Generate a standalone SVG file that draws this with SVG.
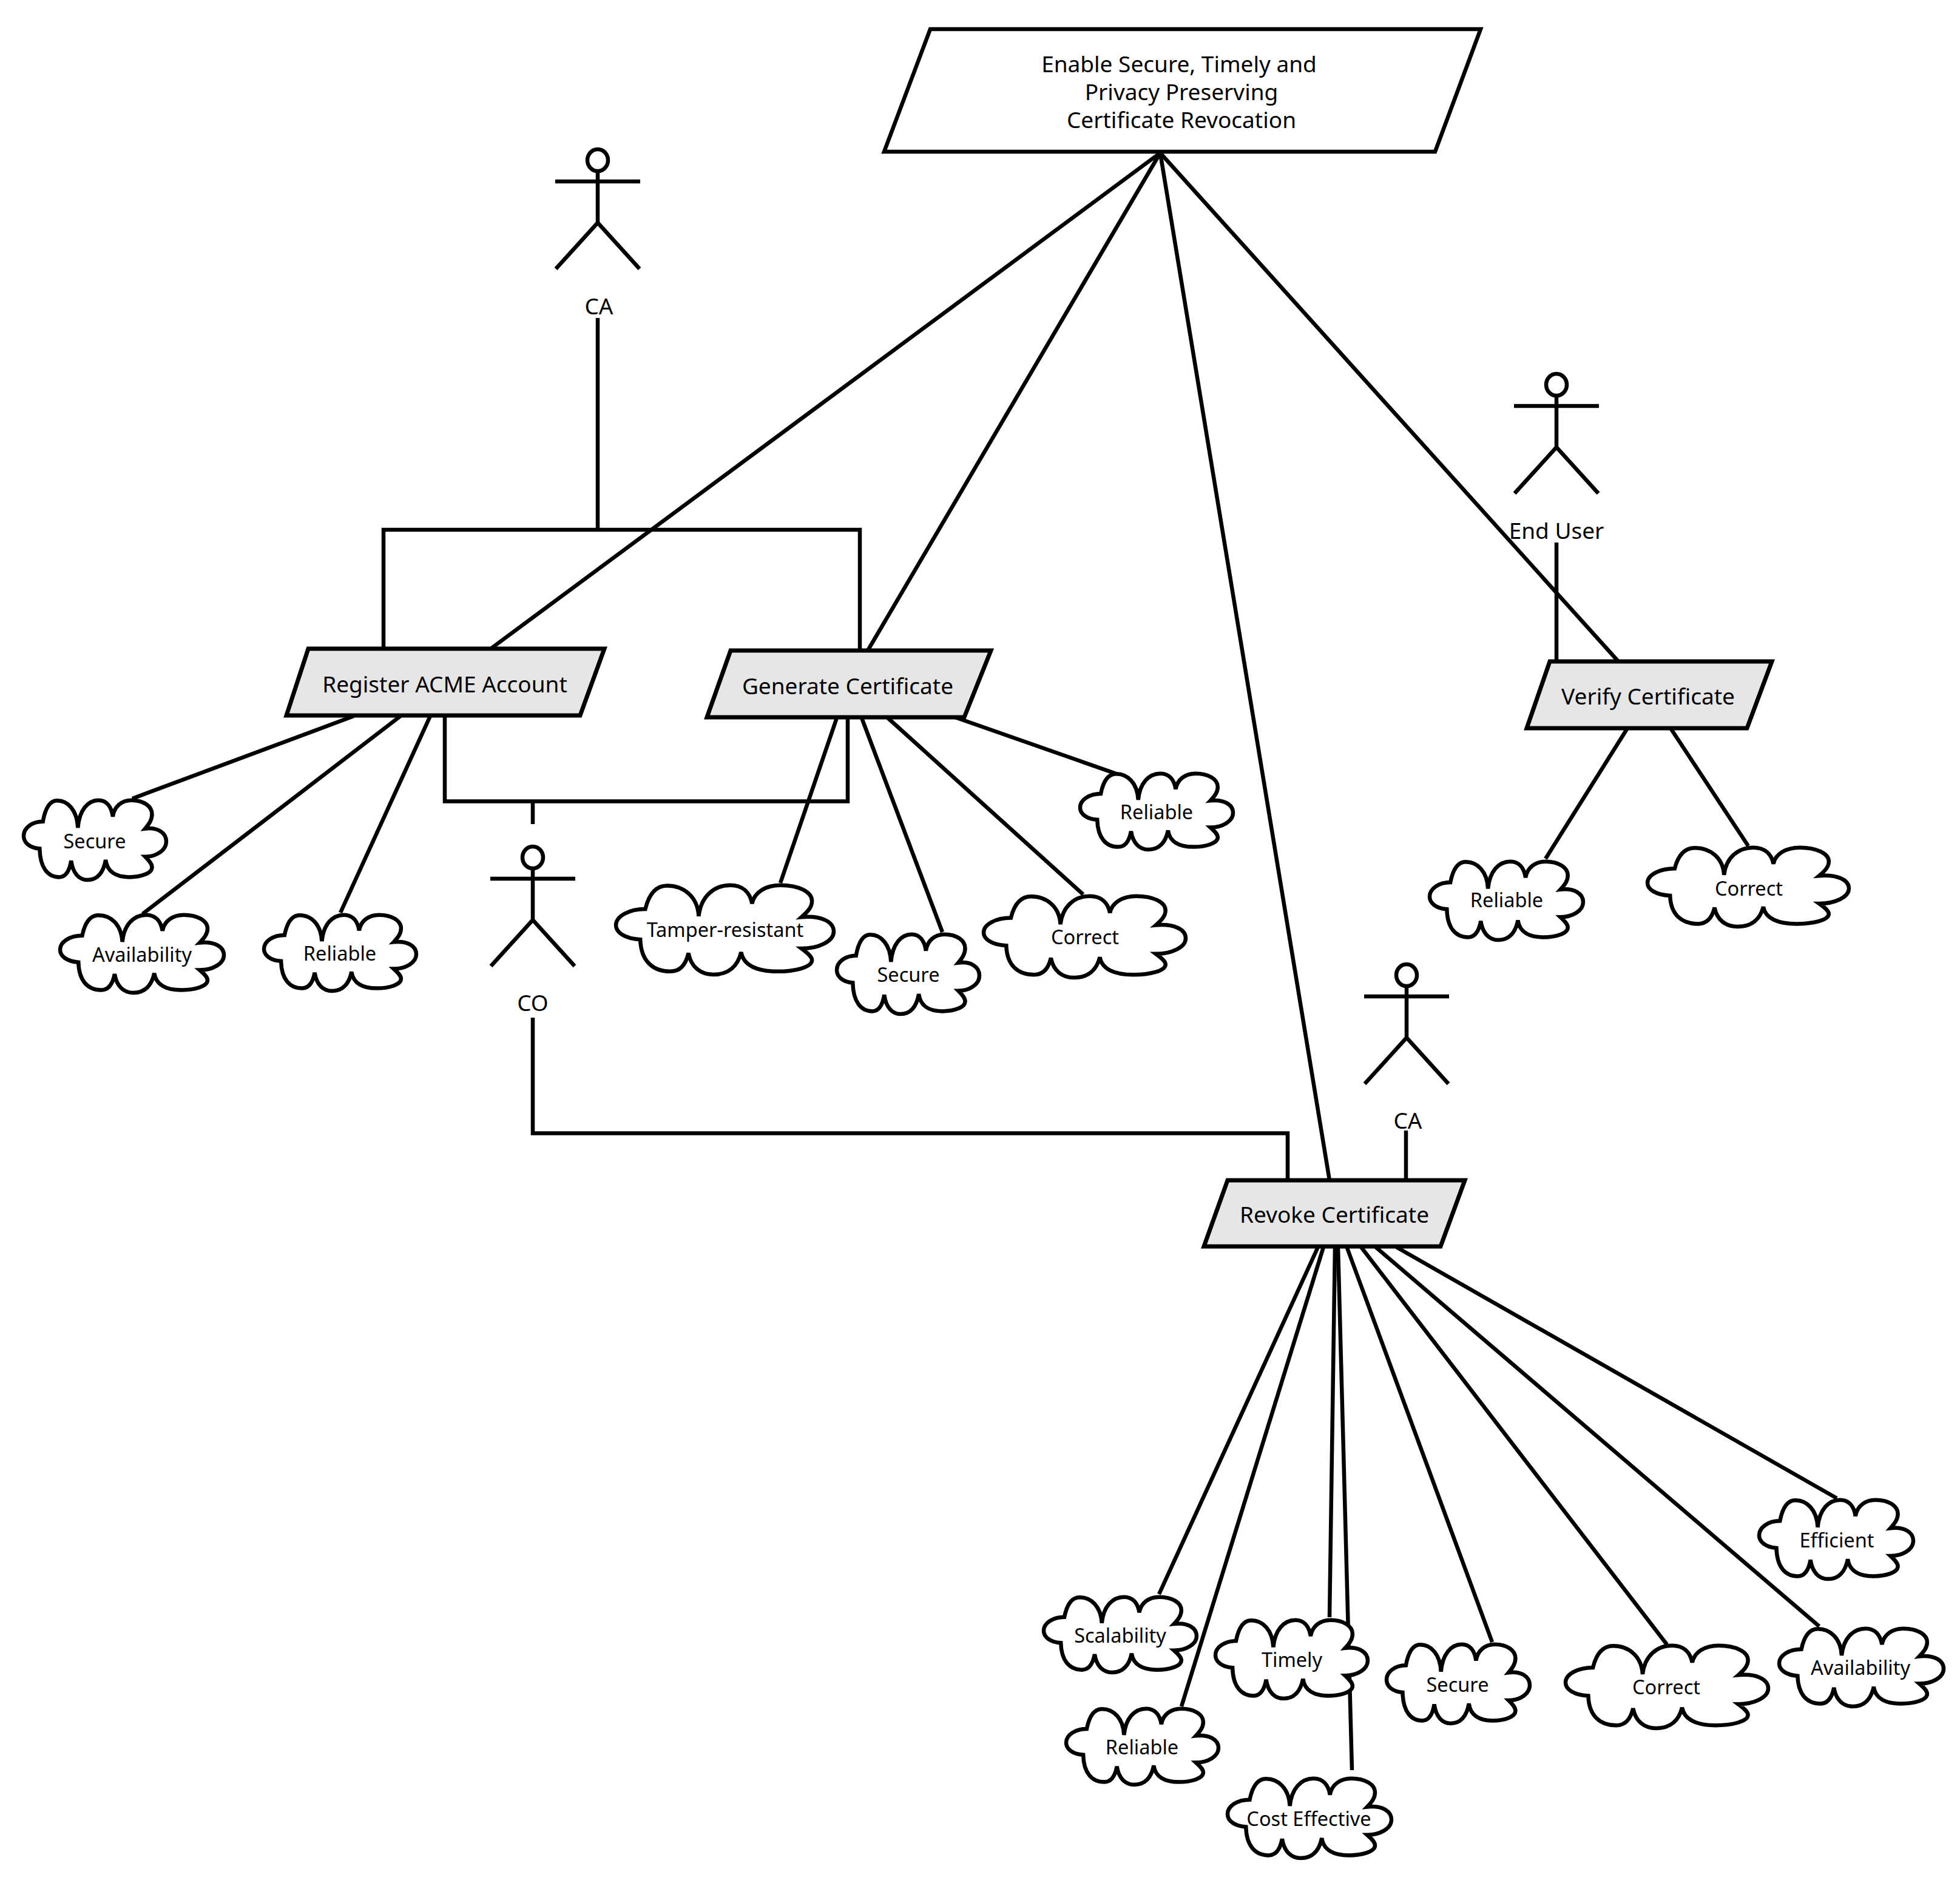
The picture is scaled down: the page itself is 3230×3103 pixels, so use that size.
<svg xmlns="http://www.w3.org/2000/svg" xmlns:xlink="http://www.w3.org/1999/xlink" width="3230" height="3103" viewBox="0 0 3230 3103">
<style>
.ln{fill:none;stroke:#000;stroke-width:6.5}
.g{fill:#e6e6e6;stroke:#000;stroke-width:7;stroke-linejoin:miter}
.w{fill:#fff;stroke:#000;stroke-width:6.5;stroke-linejoin:miter}
.c{fill:#fff;stroke:#000;stroke-width:6.5}
text{font-family:"Noto Sans","Open Sans",sans-serif;fill:#000;text-anchor:middle}
.t{font-size:37px}
.s{font-size:32.5px}
</style>
<defs>
<path id="cloud" vector-effect="non-scaling-stroke" d="M.135 .27C.15 .12 .18 .01 .235 .01C.31 .01 .375 .13 .38 .35C.39 .13 .45 .005 .525 .005C.58 .005 .615 .08 .625 .21C.635 .08 .69 .005 .755 .005C.84 .005 .9 .08 .9 .18C.9 .25 .88 .3 .852 .36C.94 .34 1 .41 1 .52C1 .63 .93 .71 .852 .71C.88 .76 .9 .8 .9 .84C.9 .92 .82 .965 .74 .965C.65 .965 .585 .9 .575 .75C.56 .9 .52 1 .447 1C.39 1 .345 .92 .333 .76C.32 .9 .29 .965 .25 .965C.17 .965 .115 .85 .112 .61C.04 .6 0 .53 0 .45C0 .35 .06 .27 .135 .27Z"/>
<g id="stick" class="ln">
<ellipse cx="0" cy="0" rx="17" ry="18"/>
<path d="M0 18V103M-70 35H70M0 103L-69 179M0 103L69 179"/>
</g>
</defs>
<rect width="3230" height="3103" fill="#fff"/>
<g id="connectors" class="ln">
<path d="M1912 252L810 1068"/>
<path d="M1912 252L1430 1072"/>
<path d="M1912 252L2191 1945"/>
<path d="M1912 252L2667 1090"/>
<path d="M985 524V873"/>
<path d="M632 1068V873H1417V1072"/>
<path d="M733 1180V1320.5H1397V1183"/>
<path d="M878 1320.5V1358"/>
<path d="M878 1677V1867.5H2122V1945"/>
<path d="M2317 1863V1945"/>
<path d="M2565 894V1090"/>
<path d="M583 1180L218 1316"/>
<path d="M660 1180L235 1506"/>
<path d="M709 1180L561 1504"/>
<path d="M1379 1183L1286 1455"/>
<path d="M1420 1183L1553 1536"/>
<path d="M1463 1183L1785 1474"/>
<path d="M1574 1182L1848 1278"/>
<path d="M2682 1200L2547 1415"/>
<path d="M2753 1200L2881 1394"/>
<path d="M2172 2055L1910 2627"/>
<path d="M2181 2055L1947 2812"/>
<path d="M2200 2055L2191 2665"/>
<path d="M2205 2055L2228 2917"/>
<path d="M2219.5 2055L2459 2706"/>
<path d="M2243 2055L2747 2710"/>
<path d="M2267 2055L2998 2680"/>
<path d="M2301 2055L3027 2469"/>
</g>
<g id="goal"><path class="w" d="M1533 48H2440L2365 250H1457Z"/><text class="t" x="1943" y="119">Enable Secure, Timely and</text><text class="t" x="1947" y="165">Privacy Preserving</text><text class="t" x="1947" y="211">Certificate Revocation</text></g>
<g id="actor-ca"><use href="#stick" transform="translate(985 264)"/><text class="t" x="987" y="518">CA</text></g>
<g id="actor-co"><use href="#stick" transform="translate(878 1413)"/><text class="t" x="878" y="1666">CO</text></g>
<g id="actor-enduser"><use href="#stick" transform="translate(2565 634)"/><text class="t" x="2565" y="888">End User</text></g>
<g id="actor-ca2"><use href="#stick" transform="translate(2318 1607)"/><text class="t" x="2320" y="1860">CA</text></g>
<g id="task-register"><path class="g" d="M508 1069H996L956 1179H472Z"/><text class="t" x="733" y="1141">Register ACME Account</text></g>
<g id="task-generate"><path class="g" d="M1204 1072H1633L1589 1182H1165Z"/><text class="t" x="1397" y="1144">Generate Certificate</text></g>
<g id="task-verify"><path class="g" d="M2554 1090H2920L2879 1200H2516Z"/><text class="t" x="2716" y="1161">Verify Certificate</text></g>
<g id="task-revoke"><path class="g" d="M2023 1945H2414L2374 2054H1984Z"/><text class="t" x="2199" y="2015">Revoke Certificate</text></g>
<g id="q-secure1"><use class="c" href="#cloud" transform="translate(39 1318) scale(235 132)"/><text class="s" x="156" y="1398">Secure</text></g>
<g id="q-avail1"><use class="c" href="#cloud" transform="translate(99 1507) scale(270 129)"/><text class="s" x="234" y="1585">Availability</text></g>
<g id="q-reliable1"><use class="c" href="#cloud" transform="translate(435 1507) scale(251 126)"/><text class="s" x="560" y="1583">Reliable</text></g>
<g id="q-tamper"><use class="c" href="#cloud" transform="translate(1015 1458) scale(359 148)"/><text class="s" x="1195" y="1544">Tamper-resistant</text></g>
<g id="q-secure2"><use class="c" href="#cloud" transform="translate(1379 1539) scale(235 132)"/><text class="s" x="1497" y="1618">Secure</text></g>
<g id="q-correct2"><use class="c" href="#cloud" transform="translate(1621 1476) scale(333 135)"/><text class="s" x="1788" y="1556">Correct</text></g>
<g id="q-reliable2"><use class="c" href="#cloud" transform="translate(1780 1274) scale(252 126)"/><text class="s" x="1906" y="1350">Reliable</text></g>
<g id="q-reliable3"><use class="c" href="#cloud" transform="translate(2356 1419) scale(253 130)"/><text class="s" x="2483" y="1495">Reliable</text></g>
<g id="q-correct3"><use class="c" href="#cloud" transform="translate(2715 1396) scale(332 131)"/><text class="s" x="2882" y="1476">Correct</text></g>
<g id="q-efficient"><use class="c" href="#cloud" transform="translate(2899 2471) scale(254 131)"/><text class="s" x="3027" y="2550">Efficient</text></g>
<g id="q-scal"><use class="c" href="#cloud" transform="translate(1720 2631) scale(252 125)"/><text class="s" x="1846" y="2707">Scalability</text></g>
<g id="q-timely"><use class="c" href="#cloud" transform="translate(2003 2669) scale(251 130)"/><text class="s" x="2129" y="2747">Timely</text></g>
<g id="q-secure4"><use class="c" href="#cloud" transform="translate(2285 2709) scale(236 131)"/><text class="s" x="2402" y="2788">Secure</text></g>
<g id="q-correct4"><use class="c" href="#cloud" transform="translate(2580 2711) scale(334 137)"/><text class="s" x="2746" y="2792">Correct</text></g>
<g id="q-avail4"><use class="c" href="#cloud" transform="translate(2932 2683) scale(271 129)"/><text class="s" x="3066" y="2760">Availability</text></g>
<g id="q-reliable4"><use class="c" href="#cloud" transform="translate(1757 2815) scale(251 126)"/><text class="s" x="1882" y="2891">Reliable</text></g>
<g id="q-cost"><use class="c" href="#cloud" transform="translate(2023 2930) scale(270 132)"/><text class="s" x="2157" y="3009">Cost Effective</text></g>
</svg>
